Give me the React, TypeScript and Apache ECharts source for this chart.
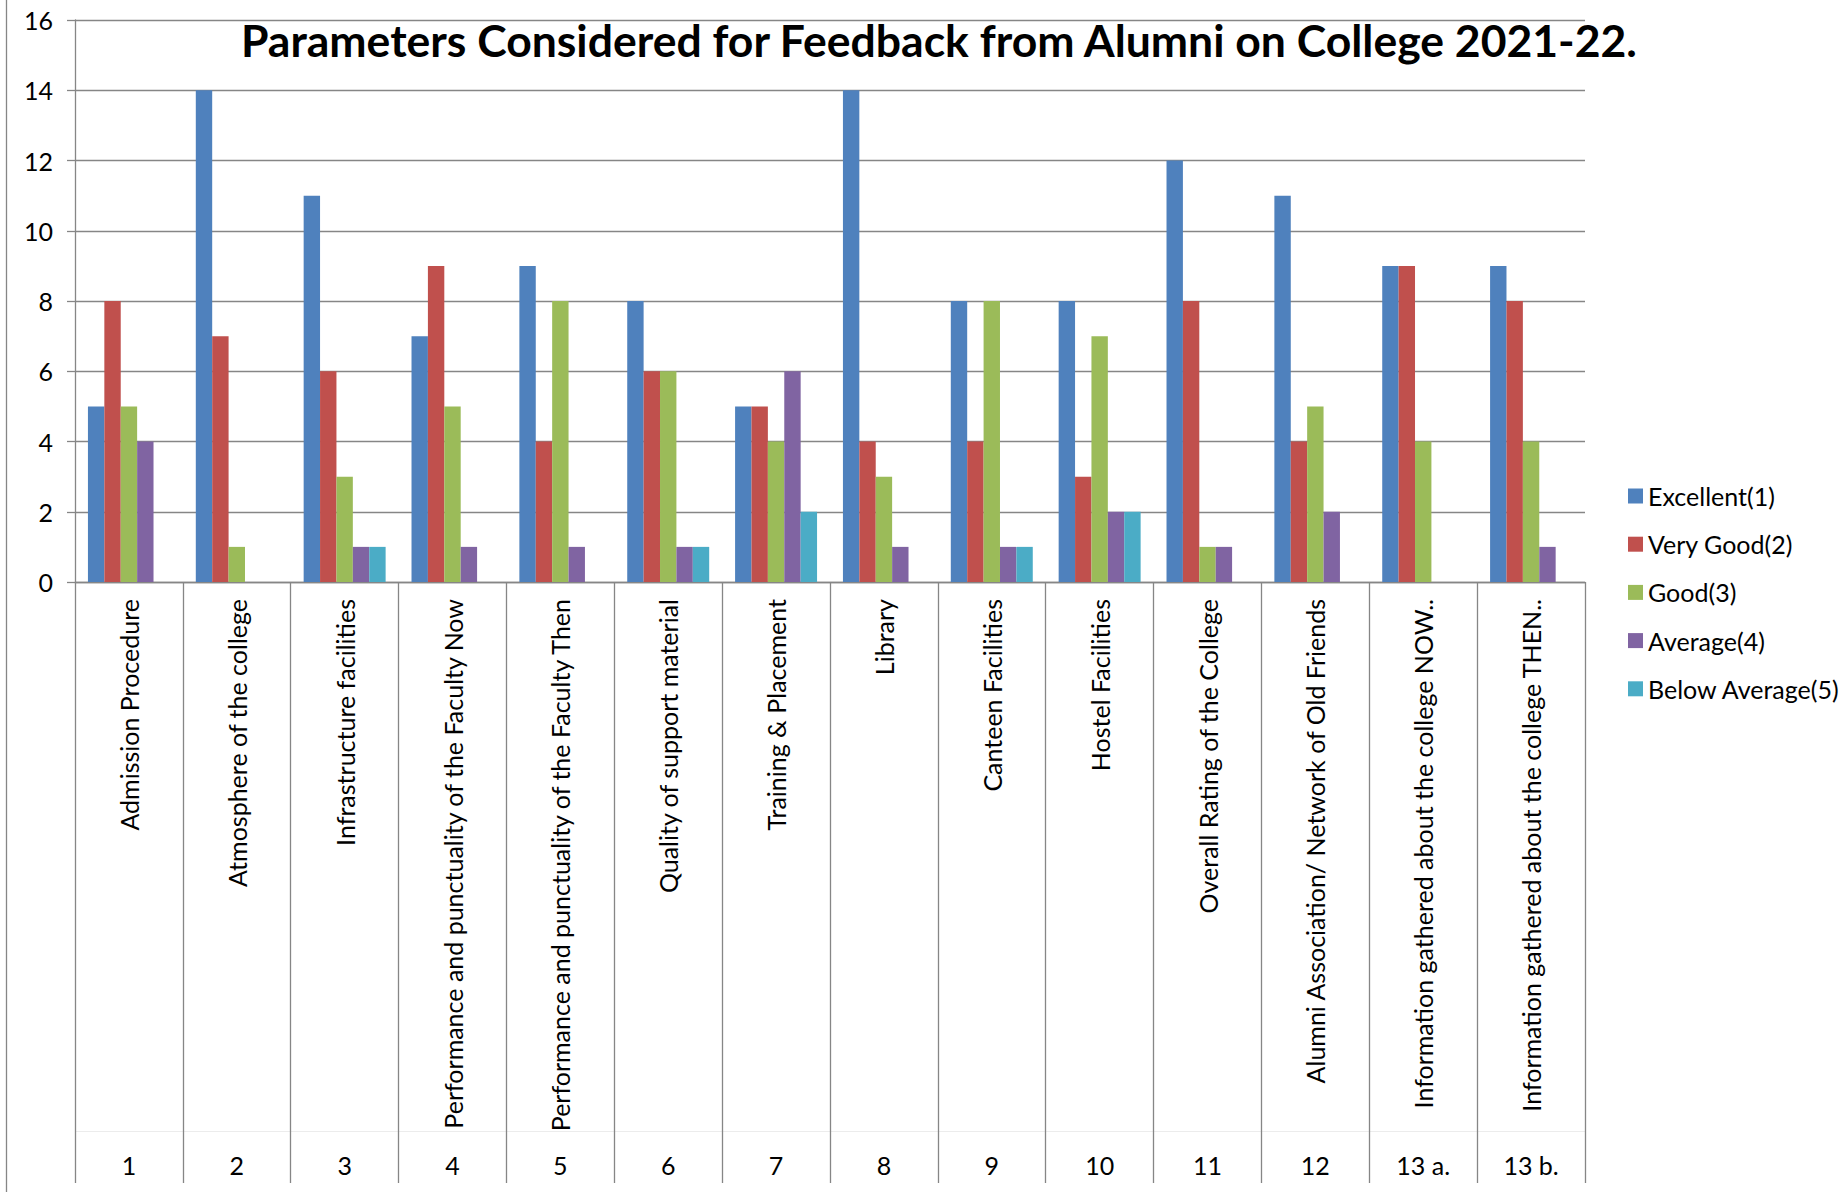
import React, { useEffect, useRef } from "react";
import * as echarts from "echarts";

const categories = [
  "Admission Procedure",
  "Atmosphere of the college",
  "Infrastructure facilities",
  "Performance and punctuality of the Faculty Now",
  "Performance and punctuality of the Faculty Then",
  "Quality of support material",
  "Training & Placement",
  "Library",
  "Canteen Facilities",
  "Hostel Facilities",
  "Overall Rating of the College",
  "Alumni Association/ Network of Old Friends",
  "Information gathered about the college NOW..",
  "Information gathered about the college THEN..",
];
const categoryNumbers = ["1", "2", "3", "4", "5", "6", "7", "8", "9", "10", "11", "12", "13 a.", "13 b."];

const excellent = [5, 14, 11, 7, 9, 8, 5, 14, 8, 8, 12, 11, 9, 9];
const veryGood = [8, 7, 6, 9, 4, 6, 5, 4, 4, 3, 8, 4, 9, 8];
const good = [5, 1, 3, 5, 8, 6, 4, 3, 8, 7, 1, 5, 4, 4];
const average = [4, 0, 1, 1, 1, 1, 6, 1, 1, 2, 1, 2, 0, 1];
const belowAverage = [0, 0, 1, 0, 0, 1, 2, 0, 1, 2, 0, 0, 0, 0];

const seriesNames = ["Excellent(1)", "Very Good(2)", "Good(3)", "Average(4)", "Below Average(5)"];
const seriesColors = ["#4F81BD", "#C0504D", "#9BBB59", "#8064A2", "#4BACC6"];
const yTicks = { min: 0, max: 16, interval: 2 };

const title = "Parameters Considered for Feedback from Alumni on College 2021-22.";

const FONT = "Lato, 'Open Sans', sans-serif";
const GRAY = "#868686";

export default function App() {
  const ref = useRef<HTMLDivElement>(null);
  useEffect(() => {
    if (!ref.current) return;
    const chart = echarts.init(ref.current, undefined, { renderer: "svg" });
    const values = [excellent, veryGood, good, average, belowAverage];
    const gridLeft = 75;
    const gridTop = 20;
    const gridWidth = 1510;
    const gridHeight = 562;
    chart.setOption({
      animation: false,
      backgroundColor: "#ffffff",
      textStyle: { fontFamily: FONT },
      grid: { left: gridLeft, top: gridTop, width: gridWidth, height: gridHeight, containLabel: false },
      legend: {
        orient: "vertical",
        left: 1623,
        top: 478,
        itemWidth: 15,
        itemHeight: 15,
        itemGap: 22.2,
        icon: "rect",
        textStyle: { fontSize: 25, color: "#000", fontFamily: FONT, lineHeight: 26 },
        data: seriesNames,
      },
      xAxis: [
        {
          type: "category",
          data: categories,
          boundaryGap: true,
          axisLine: { show: true, lineStyle: { color: GRAY, width: 1.3 } },
          axisTick: { show: true, length: 601, interval: 0, lineStyle: { color: GRAY, width: 1.3 } },
          axisLabel: {
            interval: 0,
            rotate: 90,
            margin: 17,
            fontSize: 25,
            color: "#000",
            fontFamily: FONT,
          },
        },
        {
          type: "category",
          data: categoryNumbers,
          position: "bottom",
          offset: 566,
          axisLine: { show: false },
          axisTick: { show: false },
          axisLabel: { interval: 0, margin: 4, fontSize: 25, color: "#000", fontFamily: FONT },
        },
      ],
      yAxis: {
        type: "value",
        min: yTicks.min,
        max: yTicks.max,
        interval: yTicks.interval,
        axisLine: { show: true, lineStyle: { color: GRAY, width: 1.3 } },
        axisTick: { show: true, length: 8, lineStyle: { color: GRAY, width: 1.3 } },
        splitLine: { show: true, lineStyle: { color: GRAY, width: 1.3 } },
        axisLabel: { margin: 22, fontSize: 25, color: "#000", fontFamily: FONT },
      },
      series: seriesNames.map((name, i) => ({
        name,
        type: "bar",
        xAxisIndex: 0,
        data: values[i],
        barGap: "0%",
        barCategoryGap: "24%",
        itemStyle: { color: seriesColors[i] },
      })),
      graphic: [
        {
          type: "line",
          shape: { x1: 6.5, y1: 0, x2: 6.5, y2: 1192 },
          style: { stroke: GRAY, lineWidth: 1.3 },
          silent: true,
        },
        {
          type: "line",
          shape: { x1: gridLeft, y1: 1131.5, x2: gridLeft + gridWidth, y2: 1131.5 },
          style: { stroke: "#ececec", lineWidth: 1 },
          silent: true,
        },
        {
          type: "text",
          left: 241,
          top: 17,
          style: {
            text: title,
            fontSize: 44.5,
            fontWeight: "bold",
            fontFamily: FONT,
            fill: "#000",
          },
        },
      ],
    });
    return () => chart.dispose();
  }, []);
  return (
    <div
      ref={ref}
      style={{ position: "fixed", left: 0, top: 0, width: 1843, height: 1192, background: "#fff" }}
    />
  );
}
